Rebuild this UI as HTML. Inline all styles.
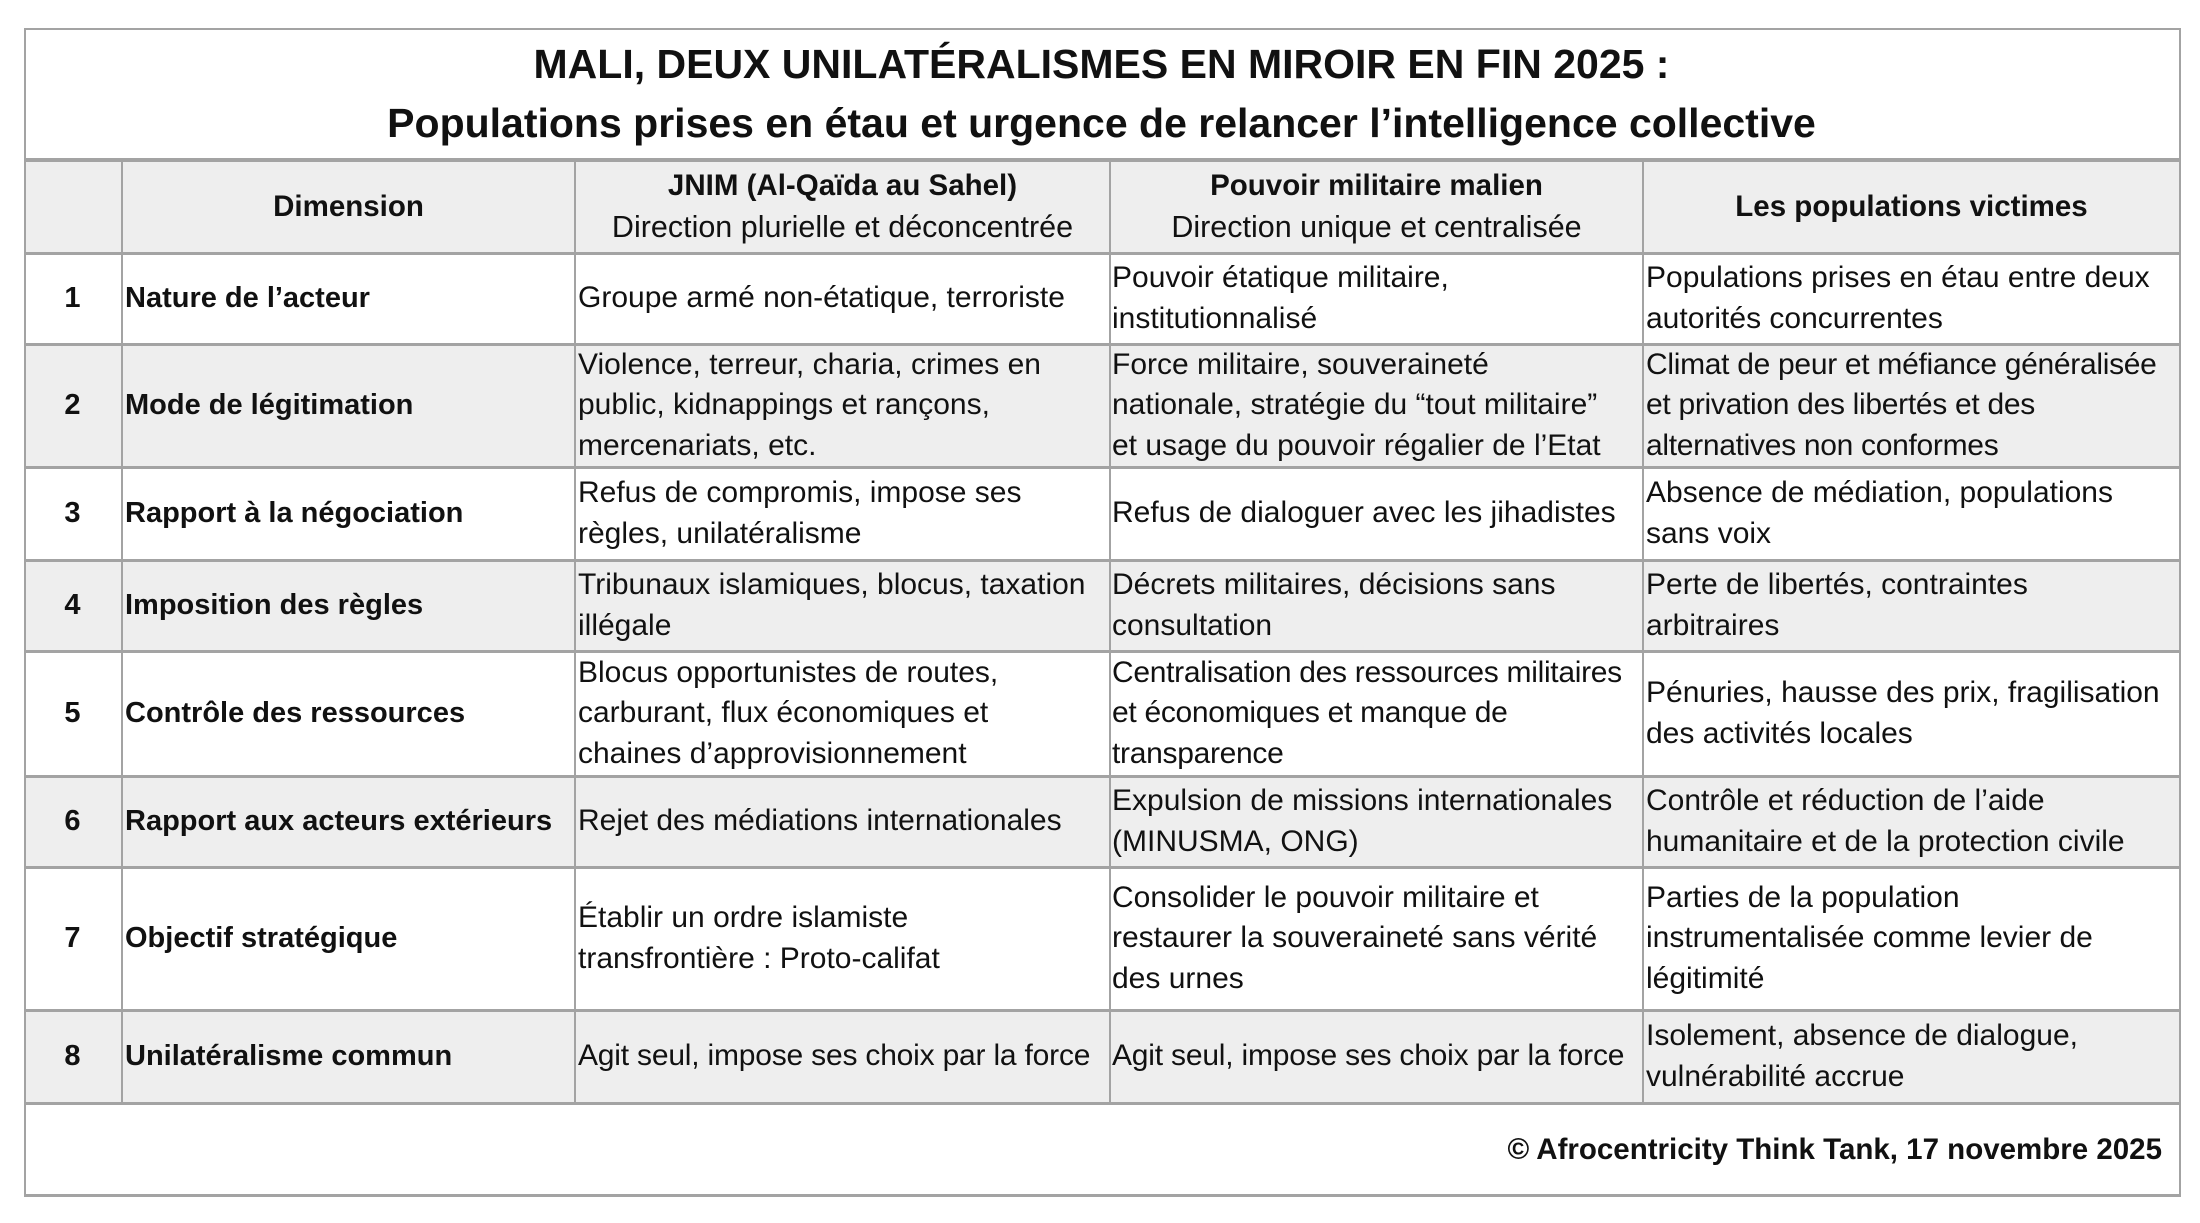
<!DOCTYPE html>
<html><head><meta charset="utf-8"><style>
body{margin:0;background:#fff;width:2200px;height:1223px;position:relative;overflow:hidden;font-family:"Liberation Sans",Arial,sans-serif;color:#111}
.b{position:absolute;background:#a3a3a3}
.c{position:absolute;display:flex;align-items:center;font-size:30px;line-height:40.5px;white-space:nowrap;letter-spacing:0px}
.g{position:absolute;background:#eeeeee}
.n{justify-content:center;font-weight:bold;font-size:29px}
.d{font-weight:bold;font-size:29px}
.h{justify-content:center;text-align:center;font-weight:bold;font-size:29.5px}
.h span{font-size:30.5px}
</style></head><body>
<div class="g" style="left:24px;top:161px;width:2155px;height:92px"></div>
<div class="g" style="left:24px;top:344px;width:2155px;height:123px"></div>
<div class="g" style="left:24px;top:560px;width:2155px;height:91px"></div>
<div class="g" style="left:24px;top:776px;width:2155px;height:91px"></div>
<div class="g" style="left:24px;top:1010px;width:2155px;height:93px"></div>
<div class="b" style="left:24px;top:28px;width:2157px;height:2px"></div>
<div class="b" style="left:24px;top:1194px;width:2157px;height:3px"></div>
<div class="b" style="left:24px;top:28px;width:2px;height:1168px"></div>
<div class="b" style="left:2179px;top:28px;width:2px;height:1168px"></div>
<div class="b" style="left:24px;top:158px;width:2157px;height:4px"></div>
<div class="b" style="left:24px;top:252px;width:2157px;height:3px"></div>
<div class="b" style="left:24px;top:343px;width:2157px;height:3px"></div>
<div class="b" style="left:24px;top:466px;width:2157px;height:3px"></div>
<div class="b" style="left:24px;top:559px;width:2157px;height:3px"></div>
<div class="b" style="left:24px;top:650px;width:2157px;height:3px"></div>
<div class="b" style="left:24px;top:775px;width:2157px;height:3px"></div>
<div class="b" style="left:24px;top:866px;width:2157px;height:3px"></div>
<div class="b" style="left:24px;top:1009px;width:2157px;height:3px"></div>
<div class="b" style="left:24px;top:1102px;width:2157px;height:3px"></div>
<div class="b" style="left:121px;top:161px;width:2px;height:943px"></div>
<div class="b" style="left:574px;top:161px;width:2px;height:943px"></div>
<div class="b" style="left:1109px;top:161px;width:2px;height:943px"></div>
<div class="b" style="left:1642px;top:161px;width:2px;height:943px"></div>

<div class="c h" style="left:24px;top:36px;width:2155px;height:116px;font-size:41px;line-height:59px">MALI, DEUX UNILATÉRALISMES EN MIROIR EN FIN 2025 :<br>Populations prises en étau et urgence de relancer l’intelligence collective</div>

<div class="c h" style="left:123px;top:161px;width:451px;height:92px">Dimension</div>
<div class="c h" style="left:576px;top:161px;width:533px;height:92px"><div>JNIM (Al-Qaïda au Sahel)<br><span style="font-weight:normal">Direction plurielle et déconcentrée</span></div></div>
<div class="c h" style="left:1111px;top:161px;width:531px;height:92px"><div>Pouvoir militaire malien<br><span style="font-weight:normal">Direction unique et centralisée</span></div></div>
<div class="c h" style="left:1644px;top:161px;width:535px;height:92px">Les populations victimes</div>

<div class="c n" style="left:24px;top:253px;width:97px;height:91px">1</div>
<div class="c d" style="left:125px;top:253px;height:91px">Nature de l’acteur</div>
<div class="c" style="left:578px;top:253px;height:91px">Groupe armé non-étatique, terroriste</div>
<div class="c" style="left:1112px;top:253px;height:91px">Pouvoir étatique militaire,<br>institutionnalisé</div>
<div class="c" style="left:1646px;top:253px;height:91px">Populations prises en étau entre deux<br>autorités concurrentes</div>

<div class="c n" style="left:24px;top:344px;width:97px;height:123px">2</div>
<div class="c d" style="left:125px;top:344px;height:123px">Mode de légitimation</div>
<div class="c" style="left:578px;top:344px;height:123px">Violence, terreur, charia, crimes en<br>public, kidnappings et rançons,<br>mercenariats, etc.</div>
<div class="c" style="left:1112px;top:344px;height:123px">Force militaire, souveraineté<br>nationale, stratégie du “tout militaire”<br>et usage du pouvoir régalier de l’Etat</div>
<div class="c" style="left:1646px;top:344px;height:123px;letter-spacing:-0.3px">Climat de peur et méfiance généralisée<br>et privation des libertés et des<br>alternatives non conformes</div>

<div class="c n" style="left:24px;top:467px;width:97px;height:93px">3</div>
<div class="c d" style="left:125px;top:467px;height:93px">Rapport à la négociation</div>
<div class="c" style="left:578px;top:467px;height:93px">Refus de compromis, impose ses<br>règles, unilatéralisme</div>
<div class="c" style="left:1112px;top:467px;height:93px">Refus de dialoguer avec les jihadistes</div>
<div class="c" style="left:1646px;top:467px;height:93px">Absence de médiation, populations<br>sans voix</div>

<div class="c n" style="left:24px;top:560px;width:97px;height:91px">4</div>
<div class="c d" style="left:125px;top:560px;height:91px">Imposition des règles</div>
<div class="c" style="left:578px;top:560px;height:91px">Tribunaux islamiques, blocus, taxation<br>illégale</div>
<div class="c" style="left:1112px;top:560px;height:91px">Décrets militaires, décisions sans<br>consultation</div>
<div class="c" style="left:1646px;top:560px;height:91px">Perte de libertés, contraintes<br>arbitraires</div>

<div class="c n" style="left:24px;top:651px;width:97px;height:125px">5</div>
<div class="c d" style="left:125px;top:651px;height:125px">Contrôle des ressources</div>
<div class="c" style="left:578px;top:651px;height:125px">Blocus opportunistes de routes,<br>carburant, flux économiques et<br>chaines d’approvisionnement</div>
<div class="c" style="left:1112px;top:651px;height:125px;letter-spacing:-0.3px">Centralisation des ressources militaires<br>et économiques et manque de<br>transparence</div>
<div class="c" style="left:1646px;top:651px;height:125px">Pénuries, hausse des prix, fragilisation<br>des activités locales</div>

<div class="c n" style="left:24px;top:776px;width:97px;height:91px">6</div>
<div class="c d" style="left:125px;top:776px;height:91px">Rapport aux acteurs extérieurs</div>
<div class="c" style="left:578px;top:776px;height:91px">Rejet des médiations internationales</div>
<div class="c" style="left:1112px;top:776px;height:91px">Expulsion de missions internationales<br>(MINUSMA, ONG)</div>
<div class="c" style="left:1646px;top:776px;height:91px">Contrôle et réduction de l’aide<br>humanitaire et de la protection civile</div>

<div class="c n" style="left:24px;top:867px;width:97px;height:143px">7</div>
<div class="c d" style="left:125px;top:867px;height:143px">Objectif stratégique</div>
<div class="c" style="left:578px;top:867px;height:143px">Établir un ordre islamiste<br>transfrontière : Proto-califat</div>
<div class="c" style="left:1112px;top:867px;height:143px">Consolider le pouvoir militaire et<br>restaurer la souveraineté sans vérité<br>des urnes</div>
<div class="c" style="left:1646px;top:867px;height:143px">Parties de la population<br>instrumentalisée comme levier de<br>légitimité</div>

<div class="c n" style="left:24px;top:1010px;width:97px;height:93px">8</div>
<div class="c d" style="left:125px;top:1010px;height:93px">Unilatéralisme commun</div>
<div class="c" style="left:578px;top:1010px;height:93px;letter-spacing:-0.2px">Agit seul, impose ses choix par la force</div>
<div class="c" style="left:1112px;top:1010px;height:93px;letter-spacing:-0.2px">Agit seul, impose ses choix par la force</div>
<div class="c" style="left:1646px;top:1010px;height:93px">Isolement, absence de dialogue,<br>vulnérabilité accrue</div>

<div class="c d" style="right:38px;top:1128px;height:44px;font-size:29.5px">© Afrocentricity Think Tank, 17 novembre 2025</div>
</body></html>
